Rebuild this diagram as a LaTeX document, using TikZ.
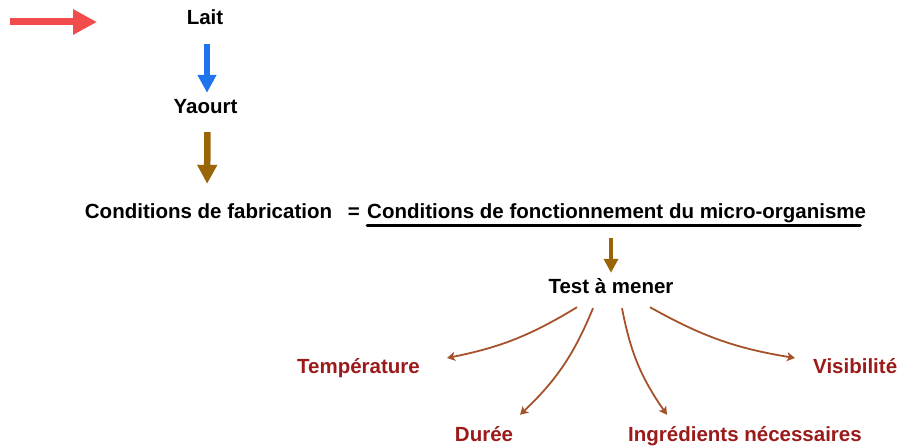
\documentclass[tikz,border=0pt]{standalone}
\usepackage{fontspec}
\setmainfont{Liberation Sans}
\usetikzlibrary{arrows.meta,positioning}
\definecolor{redc}{HTML}{F24B4B}
\definecolor{bluec}{HTML}{1F74EE}
\definecolor{brownc}{HTML}{9A6508}
\definecolor{branchc}{HTML}{A5522A}
\definecolor{factc}{HTML}{9B1B1B}

\begin{document}
\begin{tikzpicture}[
    x=1pt, y=-1pt,
    font=\fontsize{20.5}{24}\selectfont\bfseries,
    txt/.style={inner sep=0pt, text height=15pt, text depth=4pt, anchor=base},
    fact/.style={txt, text=factc},
    fat/.style={-{Triangle[length=#1, width=#1]}},
    branch/.style={-{Stealth[length=8pt, width=9pt, inset=2pt]}, draw=branchc, line width=1.8pt}
  ]
  \useasboundingbox (0,0) rectangle (897,446);

  % --- chain
  \node[txt] (lait) at (205,25) {Lait};
  \node[txt] (yaourt) at (205.5,114) {Yaourt};
  \node[txt] (fab) at (208.5,219) {Conditions de fabrication};
  \node[txt, anchor=base west] (fonct) at (367,219) {Conditions de fonctionnement du micro-organisme};
  \node[txt, anchor=base east] (eq) at (360,219) {=};
  \node[txt] (test) at (611,294) {Test à mener};

  % --- factors
  \node[fact] (temp) at (358.5,373) {Température};
  \node[fact, anchor=base west] (visib) at (813,373) {Visibilité};
  \node[fact] (duree) at (484,441) {Durée};
  \node[fact, anchor=base west] (ingr) at (628,441) {Ingrédients nécessaires};

  % --- entry arrow
  \coordinate (in0) at (10,22);
  \coordinate (in1) at (97,22);
  \draw[fat=24pt, draw=redc, fill=redc, line width=7pt] (in0) -- (in1);

  % --- flows
  \draw[fat=18pt, draw=bluec, fill=bluec, line width=5.5pt, shorten <=15pt, shorten >=6pt]
    ([xshift=2pt]lait.south) -- ([xshift=1.5pt]yaourt.north);
  \draw[fat=19pt, draw=brownc, fill=brownc, line width=6.5pt, shorten <=14pt, shorten >=20pt]
    ([xshift=2pt]yaourt.south) -- ([xshift=-1.5pt]fab.north);
  \draw[line width=3pt, line cap=round]
    ([yshift=-7pt]fonct.base west) -- ([xshift=-6pt,yshift=-7pt]fonct.base east);
  \draw[fat=14pt, draw=brownc, fill=brownc, line width=4.5pt, shorten <=15pt, shorten >=6pt]
    (fonct.south -| test) -- (test.north);

  % --- tests
  \draw[branch] ([xshift=-34pt,yshift=-9pt]test.south) to[bend left=10] ([xshift=27pt,yshift=9.5pt]temp.east);
  \draw[branch] ([xshift=-18pt,yshift=-10pt]test.south) to[bend left=12] ([xshift=36pt,yshift=11pt]duree.north);
  \draw[branch] ([xshift=11pt,yshift=-10pt]test.south) to[bend right=12] ([xshift=39pt,yshift=11pt]ingr.north west);
  \draw[branch] ([xshift=39pt,yshift=-9pt]test.south) to[bend right=10] ([xshift=-18pt,yshift=9.5pt]visib.west);

\end{tikzpicture}
\end{document}
